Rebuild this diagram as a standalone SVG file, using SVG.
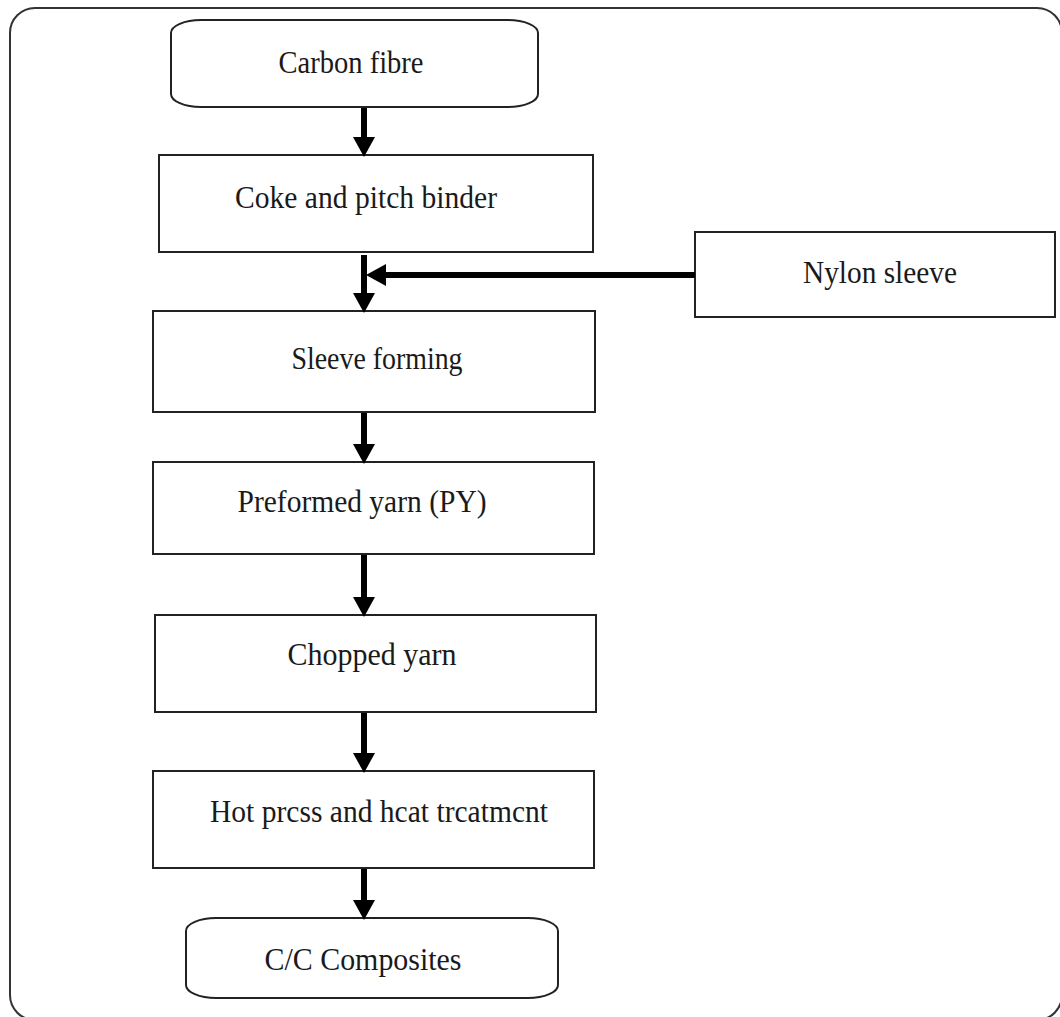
<svg xmlns="http://www.w3.org/2000/svg" width="1060" height="1017" viewBox="0 0 1060 1017">
  <style>
    .frame { fill: none; stroke: #333; stroke-width: 2; }
    .box { fill: #fff; stroke: #222; stroke-width: 2; }
    .label { font-family: "Liberation Serif", "Times New Roman", serif; font-size: 32px; fill: #1a1a1a; text-anchor: middle; }
    .flow { stroke: #000; stroke-width: 6; fill: none; marker-end: url(#head); }
  </style>
  <defs>
    <marker id="head" markerUnits="userSpaceOnUse" viewBox="0 0 20 22" markerWidth="20" markerHeight="22" refX="8" refY="11" orient="auto">
      <path d="M0,0 L20,11 L0,22 Z" fill="#000"/>
    </marker>
  </defs>

  <rect width="1060" height="1017" fill="#fff"/>

  <!-- outer frame -->
  <rect class="frame" x="10" y="8" width="1052" height="1012" rx="25" ry="25"/>

  <g id="carbon-fibre">
    <rect class="box" x="171" y="20" width="367" height="87" rx="30" ry="13"/>
    <text class="label" x="351" y="73" textLength="145" lengthAdjust="spacingAndGlyphs">Carbon fibre</text>
  </g>

  <g id="coke-binder">
    <rect class="box" x="159" y="155" width="434" height="97"/>
    <text class="label" x="366" y="208" textLength="262" lengthAdjust="spacingAndGlyphs">Coke and pitch binder</text>
  </g>

  <g id="nylon-sleeve">
    <rect class="box" x="695" y="232" width="360" height="85"/>
    <text class="label" x="880" y="283" textLength="154" lengthAdjust="spacingAndGlyphs">Nylon sleeve</text>
  </g>

  <g id="sleeve-forming">
    <rect class="box" x="153" y="311" width="442" height="101"/>
    <text class="label" x="377" y="369" textLength="171" lengthAdjust="spacingAndGlyphs">Sleeve forming</text>
  </g>

  <g id="preformed-yarn">
    <rect class="box" x="153" y="462" width="441" height="92"/>
    <text class="label" x="362" y="512" textLength="249" lengthAdjust="spacingAndGlyphs">Preformed yarn (PY)</text>
  </g>

  <g id="chopped-yarn">
    <rect class="box" x="155" y="615" width="441" height="97"/>
    <text class="label" x="372" y="665" textLength="169" lengthAdjust="spacingAndGlyphs">Chopped yarn</text>
  </g>

  <g id="hot-press">
    <rect class="box" x="153" y="771" width="441" height="97"/>
    <text class="label" x="379" y="822" textLength="338" lengthAdjust="spacingAndGlyphs">Hot prcss and hcat trcatmcnt</text>
  </g>

  <g id="cc-composites">
    <rect class="box" x="186" y="918" width="372" height="80" rx="30" ry="13"/>
    <text class="label" x="363" y="970" textLength="197" lengthAdjust="spacingAndGlyphs">C/C Composites</text>
  </g>

  <g id="connectors">
    <line class="flow" x1="364" y1="108" x2="364" y2="145"/>
    <line class="flow" x1="364" y1="255" x2="364" y2="301"/>
    <line class="flow" x1="695" y1="275" x2="378" y2="275"/>
    <line class="flow" x1="364" y1="413" x2="364" y2="452"/>
    <line class="flow" x1="364" y1="555" x2="364" y2="605"/>
    <line class="flow" x1="364" y1="713" x2="364" y2="761"/>
    <line class="flow" x1="364" y1="869" x2="364" y2="908"/>
  </g>
</svg>
